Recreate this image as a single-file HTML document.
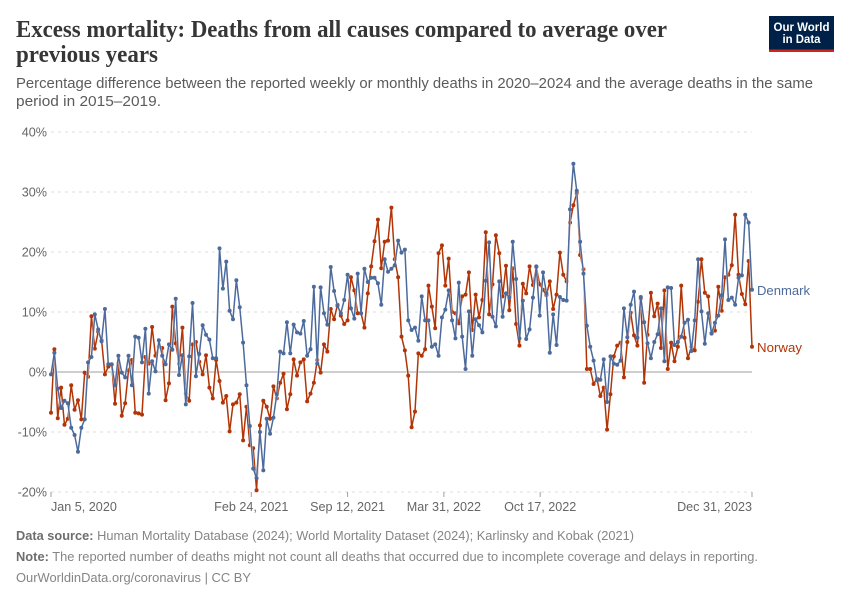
<!DOCTYPE html>
<html lang="en">
<head>
<meta charset="utf-8">
<title>Excess mortality: Deaths from all causes compared to average over previous years</title>
<style>
html,body{margin:0;padding:0;background:#fff;}
svg{display:block;font-family:"Liberation Sans",sans-serif;}
.title{font-family:"Liberation Serif",serif;font-weight:700;font-size:24px;fill:#363636;}
.sub{font-size:14.5px;fill:#5b5b5b;}
.foot{font-size:13px;fill:#858585;}
.tick{font-size:12.6px;fill:#666;}
</style>
</head>
<body>
<svg id="chart" width="850" height="600" viewBox="0 0 850 600" xmlns="http://www.w3.org/2000/svg">
  <text class="title" x="16" y="37" textLength="651" lengthAdjust="spacingAndGlyphs">Excess mortality: Deaths from all causes compared to average over</text>
  <text class="title" x="16" y="62" textLength="142" lengthAdjust="spacingAndGlyphs">previous years</text>
  <text class="sub" x="16" y="88" textLength="797" lengthAdjust="spacingAndGlyphs">Percentage difference between the reported weekly or monthly deaths in 2020–2024 and the average deaths in the same</text>
  <text class="sub" x="16" y="106" textLength="145" lengthAdjust="spacingAndGlyphs">period in 2015–2019.</text>

  <g>
    <rect x="769" y="16" width="65" height="36" fill="#002147"/>
    <rect x="769" y="49.5" width="65" height="2.5" fill="#ce261e"/>
    <text x="801.5" y="31" text-anchor="middle" font-size="12" font-weight="700" fill="#fff" textLength="56" lengthAdjust="spacingAndGlyphs">Our World</text>
    <text x="801.5" y="43" text-anchor="middle" font-size="12" font-weight="700" fill="#fff" textLength="38" lengthAdjust="spacingAndGlyphs">in Data</text>
  </g>

  <g id="grid"></g>
  <g id="yticks"></g>
  <g id="xticks"></g>
  <g id="series"></g>

  <text x="757" y="295" font-size="13" fill="#4c6a9c" textLength="53" lengthAdjust="spacingAndGlyphs">Denmark</text>
  <text x="757" y="352" font-size="13" fill="#b13507" textLength="45" lengthAdjust="spacingAndGlyphs">Norway</text>

  <text class="foot" x="16" y="540" textLength="618" lengthAdjust="spacingAndGlyphs"><tspan font-weight="700" fill="#6e6e6e">Data source:</tspan> Human Mortality Database (2024); World Mortality Dataset (2024); Karlinsky and Kobak (2021)</text>
  <text class="foot" x="16" y="561" textLength="742" lengthAdjust="spacingAndGlyphs"><tspan font-weight="700" fill="#6e6e6e">Note:</tspan> The reported number of deaths might not count all deaths that occurred due to incomplete coverage and delays in reporting.</text>
  <text class="foot" x="16" y="582" textLength="235" lengthAdjust="spacingAndGlyphs">OurWorldinData.org/coronavirus | CC BY</text>
</svg>
<script>
const startDate = "2020-01-05";
const endDate = "2023-12-31";
const yTicks = [-20, -10, 0, 10, 20, 30, 40];
const xTickDates = ["2020-01-05", "2021-02-24", "2021-09-12", "2022-03-31", "2022-10-17", "2023-12-31"];
const xTickLabels = ["Jan 5, 2020", "Feb 24, 2021", "Sep 12, 2021", "Mar 31, 2022", "Oct 17, 2022", "Dec 31, 2023"];
const denmark = [
-0.4,3.2,-2.8,-6,-4.8,-5.2,-9.3,-10.5,-13.3,-9.3,
-7.9,1.6,2.5,9.6,7.1,5.1,10.5,1.3,1.3,-2.2,
2.7,-0.1,-0.9,2.7,-2.2,5.9,5.7,1.6,7.2,-3.6,
1.8,0.1,5.3,2.7,1.3,4.6,3.7,12.2,-0.5,2.8,
-5.4,2.6,11.5,-0.7,3,7.8,6.2,5.4,2.3,2.3,
20.6,13.9,18.4,10.2,8.8,15.3,10.8,4.9,-2.2,-9,
-16.1,-17.7,-10,-16.4,-7.8,-10.3,-7.6,-3.7,3.4,3.1,
8.3,3.1,7.9,6.6,6.4,8.5,2.7,3.8,14.2,1.4,
14.1,9.8,7.9,17.5,13.5,11,9.8,12,16.2,10.6,
8.9,16.4,9.8,17.2,15,15.7,15.7,14.8,11.2,18.8,
16.7,17.2,17.8,21.9,19.9,20.4,8.6,7,7.4,5.2,
12.6,8.6,8.6,4.2,4.6,2.7,9.1,10.4,13.6,8.6,
5.6,14.9,5.9,0.5,10.1,2.7,8.8,7.8,6.6,15.2,
21.6,9.2,7.6,15.1,9.2,13.1,12.4,21.7,15.5,5.6,
11.9,5.5,7.1,12.4,17.6,9.4,16.6,13.1,3.2,9.6,
4.5,12.5,12,11.9,27.1,34.7,30.2,21.7,16.4,7.7,
4.2,1.9,-1.4,-1.3,2.1,-5,2.6,1.4,1.2,1.9,
10.6,5.8,11.2,13.4,5.7,12.5,8.3,4.8,2.3,5,
6.3,10.6,1.8,14.1,14,4.5,5,5.9,8.2,8.7,
3.5,8.6,18.8,10.1,4.7,9.8,6.4,8.2,9.4,12.8,
22.1,12,12.4,11.2,15.7,16.1,26.2,24.9,13.7
];
const norway = [
-6.8,3.8,-7.7,-2.6,-8.8,-7.8,-2.2,-6.3,-4.7,-7.9,
-0.1,-0.8,9.3,3.9,6.7,5.3,-0.4,0.9,1.2,-5.3,
1.5,-7.3,-5.2,0.3,2,-6.8,-6.9,-7.1,2.5,1.4,
7.5,2.7,4.2,4,-4.7,-1.9,10.9,4.8,1.4,7.4,
-3.6,-4.8,4.6,5,1.7,-0.4,2.8,-2.6,-4.4,2,
-1.5,-5.1,-4,-9.9,-5.4,-5.1,-3.7,-11.4,-5.8,-12.2,
-12.7,-19.7,-8.9,-4.8,-5.8,-7.8,-2.4,-4.4,-1.8,-0.3,
-6.2,-3.7,2.1,-0.6,1.6,2.1,-4.9,-3.6,-1.8,2,
-0.1,4.6,3.4,10.5,8.8,11.2,9.4,8,8.6,15.8,
13.6,9.8,9.8,7.4,13.1,17.6,21.8,25.4,17.3,21.7,
21.9,27.4,18.8,15.8,5.9,3.6,-0.6,-9.2,-6.6,3.1,
2.7,3.8,14.4,10.9,7.3,19.8,21.1,14.4,18.9,10,
9.8,8.1,12.6,12.9,16.6,7,12.9,9.1,12,23.3,
9.6,14.6,22.8,19.8,12.6,17.7,10.3,17.3,8,4.4,
14.7,13.1,17.6,14.5,17.5,14.6,13.7,12.8,15.1,10.5,
12.9,19.9,16.2,15.1,24.9,27.8,29.8,19.5,17.1,0.5,
0.5,-2,-1.1,-4,-2.6,-9.6,-3.7,2.6,4.4,4.9,
-0.9,5,9.9,6.1,4.4,12.2,-1.8,6.2,13.2,9.3,
11.4,4,13.6,0.5,4.9,1.8,4.2,14.4,5.7,2.3,
4.2,3.6,11.7,18.8,13.2,12.6,6.5,6.9,14.2,10.2,
15.8,16.2,17.8,26.2,16.2,13,11.3,18.5,4.2
];

const NS = "http://www.w3.org/2000/svg";
const plotLeft = 51, plotRight = 752, plotTop = 132, plotBottom = 492;
const yMin = -20, yMax = 40;
const DAY = 86400000;
const t0 = Date.parse(startDate), t1 = Date.parse(endDate);
function xDay(ms) { return plotLeft + (ms - t0) / (t1 - t0) * (plotRight - plotLeft); }
function xWeek(i) { return xDay(t0 + i * 7 * DAY); }
function y(v) { return plotBottom - (v - yMin) / (yMax - yMin) * (plotBottom - plotTop); }
function make(tag, attrs, parent) {
  const el = document.createElementNS(NS, tag);
  for (const k in attrs) el.setAttribute(k, attrs[k]);
  parent.appendChild(el);
  return el;
}

const grid = document.getElementById("grid");
const yAxis = document.getElementById("yticks");
yTicks.forEach(function (v) {
  const line = make("line", {
    x1: plotLeft, x2: plotRight, y1: y(v), y2: y(v),
    stroke: v === 0 ? "#bdbdbd" : "#dedede",
    "stroke-width": v === 0 ? 1.6 : 1,
    "stroke-dasharray": v === 0 ? "none" : "3,4"
  }, grid);
  
  
  const label = make("text", { class: "tick", x: 47, y: y(v) + 4.5, "text-anchor": "end" }, yAxis);
  
  
  label.textContent = v + "%";
});

const xAxis = document.getElementById("xticks");
xTickDates.forEach(function (d, i) {
  const px = xDay(Date.parse(d));
  const tick = make("line", { x1: px, x2: px, y1: plotBottom, y2: plotBottom + 5, stroke: "#a0a0a0", "stroke-width": 1 }, xAxis);
  
  
  const anchor = i === 0 ? "start" : (i === xTickDates.length - 1 ? "end" : "middle");
  const label = make("text", { class: "tick", x: px, y: 511, "text-anchor": anchor }, xAxis);
  
  
  label.textContent = xTickLabels[i];
});

function drawSeries(values, color, name) {
  const parent = document.getElementById("series");
  const g = make("g", {}, parent);
  
  
  const pts = values.map(function (v, i) { return xWeek(i).toFixed(2) + "," + y(v).toFixed(2); }).join(" ");
  const halo = make("polyline", { points: pts, fill: "none", stroke: "#fff", "stroke-width": 2.5, "stroke-opacity": 0.65, "stroke-linejoin": "round" }, g);
  
  
  const line = make("polyline", { points: pts, fill: "none", stroke: color, "stroke-width": 1.5, "stroke-linejoin": "round" }, g);
  
  
  values.forEach(function (v, i) {
    const dot = make("circle", { cx: xWeek(i), cy: y(v), r: 2, fill: color }, g);
    
    
  });
}
drawSeries(norway, "#b13507", "norway");
drawSeries(denmark, "#4c6a9c", "denmark");
</script>
</body>
</html>
